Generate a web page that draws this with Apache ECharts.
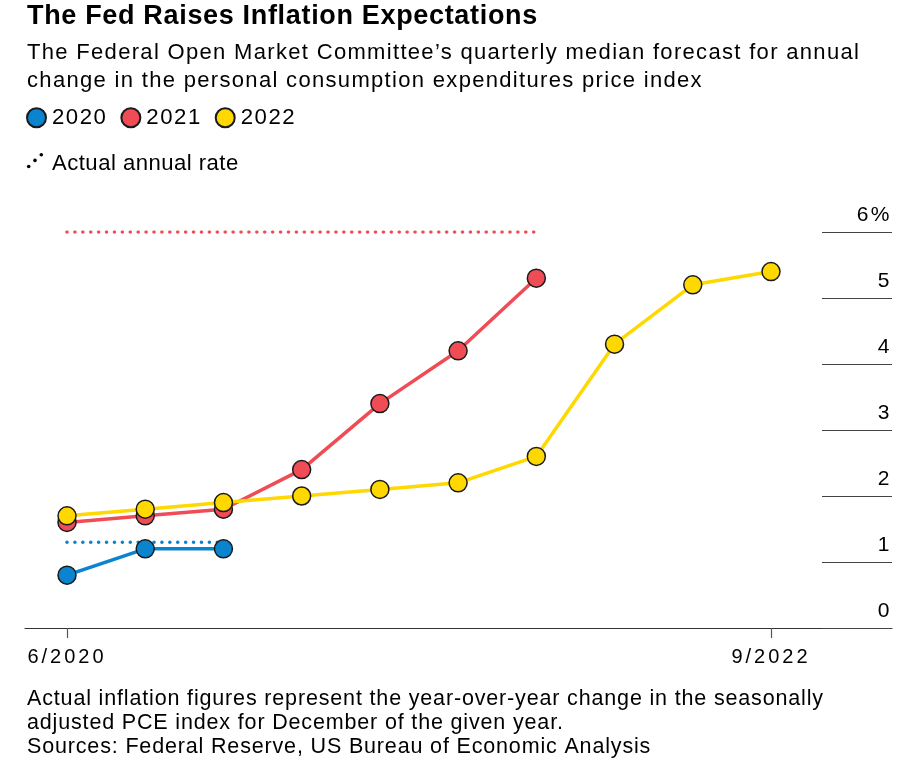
<!DOCTYPE html>
<html>
<head>
<meta charset="utf-8">
<style>
html,body{margin:0;padding:0;background:#fff;}
#chart{width:919px;height:766px;}
</style>
<script src="https://cdn.jsdelivr.net/npm/echarts@6/dist/echarts.min.js"></script>
</head>
<body>
<div id="chart"></div>
<script>
const quarters = ['6/2020','9/2020','12/2020','3/2021','6/2021','9/2021','12/2021','3/2022','6/2022','9/2022'];
const forecast2020 = [0.8, 1.2, 1.2];
const forecast2021 = [1.6, 1.7, 1.8, 2.4, 3.4, 4.2, 5.3];
const forecast2022 = [1.7, 1.8, 1.9, 2.0, 2.1, 2.2, 2.6, 4.3, 5.2, 5.4];
const actual2020 = 1.3;
const actual2021 = 6.0;
const shownXTicks = [0, 9];

const FONT = '"Liberation Sans", Arial, sans-serif';
const C2020 = '#0a84cf', C2021 = '#ef4c55', C2022 = '#ffd800';

// letter spacing per font size (the reference typeface is wider than Liberation Sans)
const SPACING = {'27':0.67, '22':1.32, '22.2':1.5, '22.1':0.48, '21.5':0.84, '20':3.0, '21':2.5};
(function(){
  const proto = CanvasRenderingContext2D.prototype;
  const d = Object.getOwnPropertyDescriptor(proto, 'font');
  if (!d || !('letterSpacing' in proto)) return;
  Object.defineProperty(proto, 'font', {
    configurable:true,
    get(){ return d.get.call(this); },
    set(v){
      d.set.call(this, v);
      const m = /([\d.]+)px/.exec(v);
      const s = m ? (SPACING[m[1]] || 0) : 0;
      this.letterSpacing = s + 'px';
    }
  });
})();

function pts(arr){ return arr.map((v,i)=>[i,v]); }
function flat(v,n){ const a=[]; for(let i=0;i<n;i++) a.push([i,v]); return a; }

const chart = echarts.init(document.getElementById('chart'));
function forecastSeries(name, data, color){
  return {
    name, type:'line', data: pts(data), symbol:'circle', symbolSize:18,
    lineStyle:{color, width:3.5}, itemStyle:{color, borderColor:'#1a1a1a', borderWidth:1.5},
    z:3, animation:false, emphasis:{disabled:true}
  };
}
function actualSeries(name, v, n, color){
  return {
    name, type:'line', data: flat(v,n), symbol:'none',
    lineStyle:{color, width:3.6, type:[0.01, 7.9], cap:'round'},
    z:2, animation:false, emphasis:{disabled:true}
  };
}

chart.setOption({
  animation:false,
  backgroundColor:'#fff',
  legend:{
    data:['2020','2021','2022'], left:26, top:106, padding:0, icon:'circle',
    itemWidth:19, itemHeight:19, itemGap:13,
    textStyle:{fontFamily:FONT, fontSize:22.2, color:'#000', padding:[0,0,0,1]}
  },
  graphic:[
    {type:'text', style:{x:27, y:17, text:'The Fed Raises Inflation Expectations', font:'bold 27px '+FONT, fill:'#000', verticalAlign:'middle'}},
    {type:'text', style:{x:27, y:67, text:'The Federal Open Market Committee\u2019s quarterly median forecast for annual\nchange in the personal consumption expenditures price index', font:'22px '+FONT, fill:'#000', lineHeight:28, verticalAlign:'middle'}},
    {type:'circle', shape:{cx:28.7, cy:166.5, r:1.8}, style:{fill:'#000'}},
    {type:'circle', shape:{cx:35, cy:160.4, r:1.8}, style:{fill:'#000'}},
    {type:'circle', shape:{cx:41.3, cy:154.8, r:1.8}, style:{fill:'#000'}},
    {type:'text', style:{x:52, y:164, text:'Actual annual rate', font:'22.1px '+FONT, fill:'#000', verticalAlign:'middle'}},
    {type:'text', style:{x:27, y:723, text:'Actual inflation figures represent the year-over-year change in the seasonally\nadjusted PCE index for December of the given year.\nSources: Federal Reserve, US Bureau of Economic Analysis', font:'21.5px '+FONT, fill:'#000', lineHeight:24, verticalAlign:'middle'}}
  ],
  grid:{left:25, right:27, top:232, bottom:138, containLabel:false},
  xAxis:{
    type:'value', min:-0.537, max:10.547,
    splitLine:{show:false},
    axisLine:{show:true, onZero:false, lineStyle:{color:'#333', width:1.2}},
    axisTick:{show:true, customValues:shownXTicks, length:10, lineStyle:{color:'#555', width:1.2}},
    axisLabel:{show:true, customValues:shownXTicks, formatter:v=>quarters[Math.round(v)], margin:18,
      fontFamily:FONT, fontSize:20, color:'#000'}
  },
  yAxis:{
    type:'value', position:'right', min:0, max:6, interval:1,
    splitLine:{show:false},
    axisLine:{show:false, onZero:false},
    axisTick:{show:true, inside:true, length:70, lineStyle:{color:'#444', width:1.2}},
    axisLabel:{show:true, inside:true, margin:0, verticalAlign:'bottom', padding:[0,0,5,0],
      fontFamily:FONT, fontSize:21, color:'#000',
      formatter:v=> v===6 ? '6%' : String(v)}
  },
  series:[
    actualSeries('Actual 2020', actual2020, 3, C2020),
    actualSeries('Actual 2021', actual2021, 7, C2021),
    forecastSeries('2020', forecast2020, C2020),
    forecastSeries('2021', forecast2021, C2021),
    forecastSeries('2022', forecast2022, C2022)
  ]
});
</script>
</body>
</html>
